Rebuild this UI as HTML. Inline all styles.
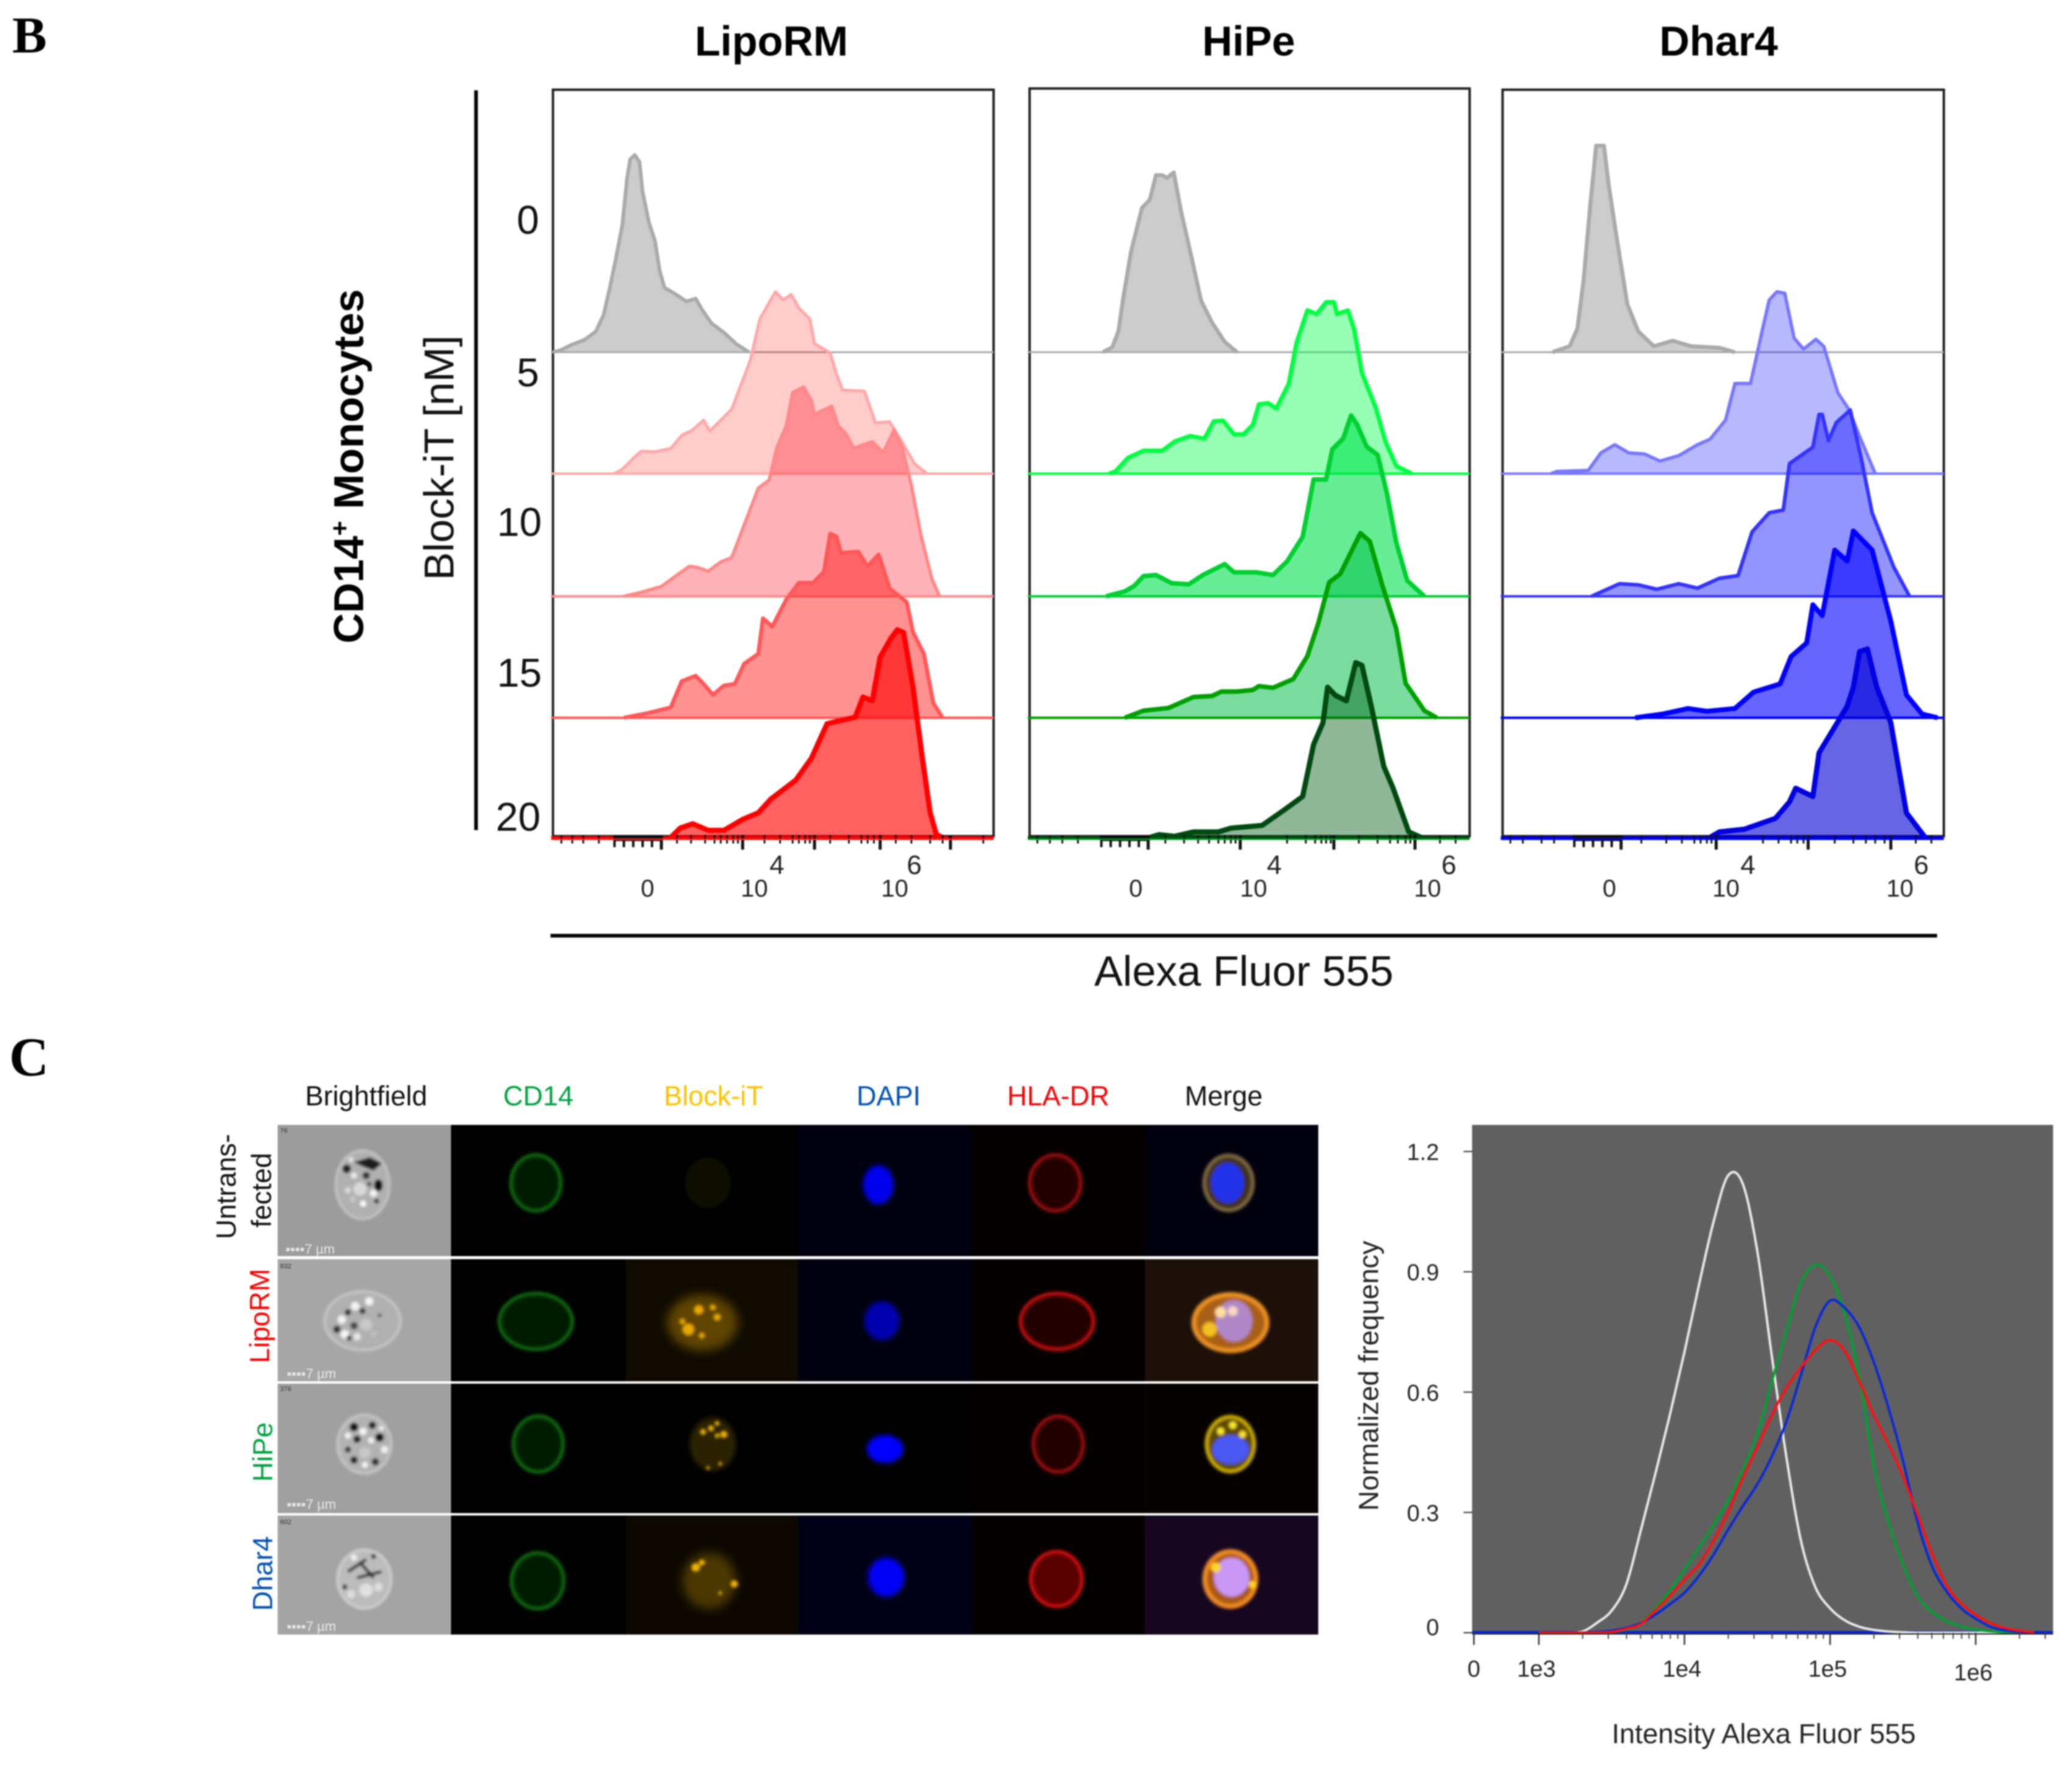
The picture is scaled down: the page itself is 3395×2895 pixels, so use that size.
<!DOCTYPE html>
<html>
<head>
<meta charset="utf-8">
<title>Block-iT uptake in CD14+ monocytes</title>
<style>
html,body{margin:0;padding:0;background:#fff;}
svg{display:block;font-family:"Liberation Sans",sans-serif;filter:blur(1px);}
</style>
</head>
<body>
<svg id="fig" xmlns="http://www.w3.org/2000/svg" width="3395" height="2895" viewBox="0 0 3395 2895">
<defs>
<filter id="b1" x="-10%" y="-10%" width="120%" height="120%"><feGaussianBlur stdDeviation="2"/></filter>
<filter id="b2" x="-30%" y="-30%" width="160%" height="160%"><feGaussianBlur stdDeviation="2.5"/></filter>
<filter id="b4" x="-40%" y="-40%" width="180%" height="180%"><feGaussianBlur stdDeviation="4"/></filter>
<filter id="b8" x="-50%" y="-50%" width="200%" height="200%"><feGaussianBlur stdDeviation="8"/></filter>
</defs>
<rect width="3395" height="2895" fill="#fff"/>

<text x="20" y="86" font-family="'Liberation Serif',serif" font-weight="bold" font-size="85">B</text>
<text x="15" y="1762" font-family="'Liberation Serif',serif" font-weight="bold" font-size="90">C</text>

<g font-weight="bold" font-size="68.5" text-anchor="middle" fill="#000">
<text x="1264" y="91">LipoRM</text>
<text x="2046" y="91">HiPe</text>
<text x="2816" y="91">Dhar4</text>
</g>

<rect x="777" y="148" width="6" height="1212" fill="#000"/>
<text transform="translate(595,764) rotate(-90)" text-anchor="middle" font-weight="bold" font-size="69">CD14<tspan dy="-24" font-size="42">+</tspan><tspan dy="24"> Monocytes</tspan></text>
<text transform="translate(743,750) rotate(-90)" text-anchor="middle" font-size="69" fill="#111">Block-iT [nM]</text>
<g font-size="66" text-anchor="middle" fill="#111">
<text x="865" y="383">0</text>
<text x="865" y="633">5</text>
<text x="851" y="878">10</text>
<text x="851" y="1125">15</text>
<text x="849" y="1361">20</text>
</g>

<g id="histograms"></g>

<rect x="902" y="1530" width="2272" height="6" fill="#000"/>
<text x="2038" y="1615" text-anchor="middle" font-size="70" fill="#111">Alexa Fluor 555</text>

<!-- imaging grid -->
<g font-size="45" text-anchor="middle">
<text x="600" y="1811" fill="#111">Brightfield</text>
<text x="882" y="1811" fill="#00a040">CD14</text>
<text x="1169" y="1811" fill="#ffc000">Block-iT</text>
<text x="1456" y="1811" fill="#0050b0">DAPI</text>
<text x="1734" y="1811" fill="#f00000">HLA-DR</text>
<text x="2005" y="1811" fill="#111">Merge</text>
</g>
<g font-size="45" text-anchor="middle">
<text transform="translate(386,1944) rotate(-90)" fill="#111">Untrans-</text>
<text transform="translate(444,1950) rotate(-90)" fill="#111">fected</text>
<text transform="translate(441,2156) rotate(-90)" fill="#f00000">LipoRM</text>
<text transform="translate(446,2379) rotate(-90)" fill="#00a040">HiPe</text>
<text transform="translate(446,2578) rotate(-90)" fill="#0050b0">Dhar4</text>
</g>

<g>
<rect x="455" y="1843" width="284" height="215" fill="#9c9c9c"/>
<rect x="739" y="1843" width="1421" height="215" fill="#000"/>
<rect x="1308" y="1843" width="284" height="215" fill="#00000f"/>
<rect x="1592" y="1843" width="284" height="215" fill="#040000"/>
<rect x="1876" y="1843" width="284" height="215" fill="#00000f"/>
<rect x="455" y="2063" width="284" height="200" fill="#a6a6a6"/>
<rect x="739" y="2063" width="1421" height="200" fill="#000"/>
<rect x="1025" y="2063" width="283" height="200" fill="#100b00"/>
<rect x="1308" y="2063" width="284" height="200" fill="#00000f"/>
<rect x="1592" y="2063" width="284" height="200" fill="#050000"/>
<rect x="1876" y="2063" width="284" height="200" fill="#1c1009"/>
<rect x="455" y="2267" width="284" height="212" fill="#a0a0a0"/>
<rect x="739" y="2267" width="1421" height="212" fill="#000"/>
<rect x="1592" y="2267" width="284" height="212" fill="#050000"/>
<rect x="1876" y="2267" width="284" height="212" fill="#060200"/>
<rect x="455" y="2483" width="284" height="195" fill="#a4a4a4"/>
<rect x="739" y="2483" width="1421" height="195" fill="#000"/>
<rect x="1025" y="2483" width="283" height="195" fill="#0c0800"/>
<rect x="1308" y="2483" width="284" height="195" fill="#000018"/>
<rect x="1592" y="2483" width="284" height="195" fill="#050000"/>
<rect x="1876" y="2483" width="284" height="195" fill="#160620"/>
</g>

<g>
<g filter="url(#b1)">
<ellipse cx="594" cy="1941" rx="44" ry="56" fill="#b0b0b0" stroke="#c4c4c4" stroke-width="4"/>
<path d="M580 1904 L606 1896 L626 1906 L612 1918 L592 1910Z" fill="#1a1a1a"/>
<ellipse cx="620" cy="1942" rx="7" ry="10" fill="#111"/>
<circle cx="568" cy="1915" r="7" fill="#222"/><circle cx="580" cy="1926" r="5" fill="#eee"/><circle cx="600" cy="1926" r="6" fill="#333"/>
<circle cx="590" cy="1948" r="11" fill="#d8d8d8"/><circle cx="612" cy="1955" r="6" fill="#f4f4f4"/><circle cx="617" cy="1968" r="4" fill="#222"/><circle cx="595" cy="1972" r="5" fill="#fff"/>
<circle cx="570" cy="1950" r="5" fill="#ddd"/><circle cx="605" cy="1940" r="4" fill="#555"/><circle cx="578" cy="1965" r="5" fill="#c8c8c8"/><circle cx="575" cy="1900" r="4" fill="#e8e8e8"/>
</g>
<g filter="url(#b1)">
<ellipse cx="594" cy="2164" rx="62" ry="48" fill="#b0b0b0" stroke="#c8c8c8" stroke-width="4"/>
<circle cx="560" cy="2162" r="7" fill="#f2f2f2"/><circle cx="570" cy="2150" r="5" fill="#222"/><circle cx="582" cy="2140" r="7" fill="#f4f4f4"/><circle cx="594" cy="2148" r="5" fill="#333"/><circle cx="605" cy="2132" r="7" fill="#f4f4f4"/><circle cx="552" cy="2178" r="6" fill="#333"/><circle cx="565" cy="2186" r="7" fill="#f4f4f4"/><circle cx="580" cy="2172" r="6" fill="#444"/><circle cx="600" cy="2170" r="10" fill="#c8c8c8"/><circle cx="622" cy="2155" r="3" fill="#444"/><circle cx="572" cy="2192" r="4" fill="#222"/><circle cx="585" cy="2190" r="6" fill="#e8e8e8"/><circle cx="612" cy="2185" r="5" fill="#c0c0c0"/>
</g>
<g filter="url(#b1)">
<ellipse cx="597" cy="2366" rx="44" ry="48" fill="#b2b2b2" stroke="#c6c6c6" stroke-width="4"/>
<circle cx="580" cy="2338" r="7" fill="#111"/><circle cx="595" cy="2345" r="6" fill="#f4f4f4"/><circle cx="610" cy="2335" r="6" fill="#222"/><circle cx="622" cy="2355" r="7" fill="#111"/><circle cx="570" cy="2352" r="5" fill="#f4f4f4"/><circle cx="585" cy="2358" r="6" fill="#222"/><circle cx="630" cy="2375" r="6" fill="#f0f0f0"/><circle cx="580" cy="2392" r="6" fill="#222"/><circle cx="598" cy="2400" r="5" fill="#f4f4f4"/><circle cx="615" cy="2395" r="6" fill="#333"/><circle cx="570" cy="2375" r="5" fill="#333"/><circle cx="608" cy="2360" r="5" fill="#f2f2f2"/><circle cx="625" cy="2340" r="4" fill="#f2f2f2"/><circle cx="598" cy="2380" r="9" fill="#c8c8c8"/>
</g>
<g filter="url(#b1)">
<ellipse cx="597" cy="2587" rx="44" ry="48" fill="#bcbcbc" stroke="#d0d0d0" stroke-width="4"/>
<path d="M570 2575 L600 2555 M585 2585 L625 2575 M590 2560 L612 2585" stroke="#222" stroke-width="5" fill="none"/>
<circle cx="565" cy="2600" r="4" fill="#222"/><circle cx="612" cy="2550" r="4" fill="#222"/><circle cx="580" cy="2552" r="5" fill="#f2f2f2"/><circle cx="600" cy="2605" r="11" fill="#e0e0e0"/><circle cx="575" cy="2612" r="7" fill="#dcdcdc"/><circle cx="620" cy="2600" r="7" fill="#dedede"/>
</g>
<g font-size="22" fill="#e8e8e8">
<text x="468" y="2054">▪▪▪▪7 µm</text>
<text x="470" y="2258">▪▪▪▪7 µm</text>
<text x="470" y="2472">▪▪▪▪7 µm</text>
<text x="470" y="2672">▪▪▪▪7 µm</text>
</g>
<g font-size="11" fill="#333">
<text x="459" y="1856">76</text>
<text x="459" y="2078">832</text>
<text x="459" y="2279">376</text>
<text x="459" y="2497">602</text>
</g>
</g>

<g filter="url(#b2)" fill="#041c04" stroke="#0a620a" stroke-width="6">
<ellipse cx="878" cy="1938" rx="41" ry="46"/>
<ellipse cx="878" cy="2165" rx="60" ry="46"/>
<ellipse cx="882" cy="2366" rx="41" ry="46"/>
<ellipse cx="881" cy="2590" rx="43" ry="46"/>
</g>

<g>
<ellipse cx="1160" cy="1938" rx="38" ry="42" fill="#0a0700" filter="url(#b4)"/>
<g>
<ellipse cx="1151" cy="2167" rx="58" ry="46" fill="#5e4400" filter="url(#b8)"/>
<g fill="#e8a800" filter="url(#b2)"><circle cx="1145" cy="2146" r="8"/><circle cx="1128" cy="2178" r="10"/><circle cx="1168" cy="2142" r="5"/><circle cx="1175" cy="2158" r="6"/><circle cx="1118" cy="2165" r="5"/><circle cx="1150" cy="2188" r="5"/></g>
</g>
<g>
<ellipse cx="1168" cy="2366" rx="38" ry="44" fill="#2c2000" filter="url(#b4)"/>
<g fill="#e8b000" filter="url(#b2)"><circle cx="1152" cy="2346" r="5"/><circle cx="1165" cy="2340" r="5"/><circle cx="1175" cy="2332" r="4"/><circle cx="1186" cy="2350" r="6"/><circle cx="1175" cy="2352" r="4"/><circle cx="1160" cy="2405" r="3"/><circle cx="1180" cy="2398" r="3"/></g>
</g>
<g>
<ellipse cx="1162" cy="2590" rx="44" ry="46" fill="#4c3800" filter="url(#b8)"/>
<g fill="#f0b400" filter="url(#b2)"><circle cx="1140" cy="2568" r="7"/><circle cx="1150" cy="2560" r="5"/><circle cx="1203" cy="2595" r="6"/><circle cx="1180" cy="2610" r="3"/></g>
</g>
</g>

<g filter="url(#b4)" fill="#0000ee">
<ellipse cx="1439" cy="1941" rx="25" ry="32"/>
<ellipse cx="1445" cy="2164" rx="29" ry="32" fill="#0000b0"/>
<ellipse cx="1450" cy="2374" rx="30" ry="23" fill="#0000ff"/>
<ellipse cx="1452" cy="2584" rx="30" ry="32" fill="#0000f4"/>
</g>

<g filter="url(#b2)" fill="#200000" stroke="#900808" stroke-width="6">
<ellipse cx="1729" cy="1938" rx="42" ry="46"/>
<ellipse cx="1732" cy="2165" rx="60" ry="46" stroke="#b80808"/>
<ellipse cx="1734" cy="2366" rx="41" ry="46"/>
<ellipse cx="1731" cy="2587" rx="42" ry="45" fill="#580000" stroke="#c80808"/>
</g>

<g>
<g filter="url(#b2)">
<ellipse cx="2013" cy="1938" rx="40" ry="45" fill="#403020" stroke="#806a40" stroke-width="6"/>
<ellipse cx="2011" cy="1938" rx="27" ry="33" fill="#2030e8"/>
</g>
<g filter="url(#b2)">
<ellipse cx="2016" cy="2167" rx="60" ry="46" fill="#a86018" stroke="#ec9020" stroke-width="8"/>
<ellipse cx="2022" cy="2164" rx="30" ry="34" fill="#b088c8"/>
<circle cx="2000" cy="2150" r="9" fill="#ffe0a0"/><circle cx="1982" cy="2178" r="12" fill="#f4c020"/><circle cx="2020" cy="2148" r="8" fill="#ffd8c0"/>
</g>
<g filter="url(#b2)">
<ellipse cx="2016" cy="2366" rx="39" ry="45" fill="#5c4a00" stroke="#d0b000" stroke-width="6"/>
<ellipse cx="2016" cy="2375" rx="30" ry="24" fill="#4858f0"/>
<circle cx="2000" cy="2345" r="6" fill="#ffe830"/><circle cx="2020" cy="2335" r="6" fill="#ffe830"/><circle cx="2036" cy="2350" r="6" fill="#ffe020"/>
</g>
<g filter="url(#b2)">
<ellipse cx="2016" cy="2587" rx="42" ry="45" fill="#a85818" stroke="#f08a20" stroke-width="8"/>
<ellipse cx="2018" cy="2584" rx="29" ry="32" fill="#c898f4"/>
<circle cx="1992" cy="2568" r="8" fill="#ffd820"/><circle cx="2052" cy="2596" r="6" fill="#ffd820"/>
</g>
</g>

<!-- intensity histogram -->
<g id="line-chart"></g>
<text x="2890" y="2856" text-anchor="middle" font-size="45.5" fill="#222">Intensity Alexa Fluor 555</text>
<text transform="translate(2258,2254) rotate(-90)" text-anchor="middle" font-size="45.5" fill="#222">Normalized frequency</text>
</svg>

<script>
// ---- Flow histogram data: channel units and event counts per series ----
const lipo0Ch=[113,135,170,215,250,275,295,315,335,350,360,375,390,400,420,440,455,470,500,540,570,590,620,660,700,740];
const lipo0Val=[0,3,13,23,38,68,118,173,233,318,353,361,348,293,238,203,148,118,108,93,98,78,53,36,15,0];
const lipo5Ch=[310,335,370,395,440,490,525,560,595,615,650,685,715,745,775,800,825,850,875,900,935,950,1000,1020,1040,1110,1145,1190,1230,1270,1310];
const lipo5Val=[0,8,28,41,40,46,70,80,98,78,98,118,163,208,283,308,333,318,328,303,283,238,221,183,153,151,93,95,58,18,0];
const lipo10Ch=[340,400,460,520,550,575,610,650,685,720,770,805,830,860,880,915,940,950,1005,1025,1050,1075,1135,1170,1205,1230,1260,1290,1325,1350];
const lipo10Val=[0,8,18,43,55,53,46,63,71,123,198,213,273,313,373,383,358,333,348,313,298,271,283,263,305,273,203,113,33,0];
const lipo15Ch=[340,420,490,525,570,595,625,660,695,725,770,785,815,860,900,945,980,1000,1020,1035,1090,1120,1155,1190,1245,1265,1300,1330,1360];
const lipo15Val=[0,9,19,67,77,62,42,59,62,99,117,182,167,217,247,247,267,337,332,302,304,277,299,237,212,157,117,27,0];
const lipo20Ch=[490,520,560,610,660,720,770,810,890,940,990,1040,1080,1105,1135,1160,1195,1215,1235,1265,1295,1320,1340,1360];
const lipo20Val=[0,17,25,13,13,33,45,70,105,145,208,215,220,257,250,330,365,380,375,275,145,45,5,0];

const hipe0Ch=[270,300,320,335,360,395,420,440,460,475,497,520,550,585,620,660,700];
const hipe0Val=[0,9,39,99,184,264,279,324,324,319,329,259,184,94,54,19,0];
const hipe5Ch=[290,310,350,400,460,500,550,595,625,655,690,720,750,770,800,825,865,890,925,955,985,1010,1020,1055,1075,1100,1145,1175,1210,1260];
const hipe5Val=[0,4,29,42,42,59,69,64,96,97,72,72,89,127,129,119,164,239,299,292,314,314,292,299,264,184,119,59,14,0];
const hipe10Ch=[280,340,370,400,440,490,545,590,660,690,760,815,860,910,930,945,985,1005,1040,1065,1085,1115,1150,1180,1210,1245,1300];
const hipe10Val=[0,9,19,37,39,24,22,39,59,44,44,39,64,109,169,214,214,269,289,331,314,274,259,189,99,29,0];
const hipe15Ch=[340,400,480,560,620,650,700,750,770,815,880,925,960,995,1030,1095,1125,1165,1210,1240,1300,1340];
const hipe15Val=[0,13,18,38,40,48,48,51,58,55,71,113,173,248,263,338,323,243,163,63,13,0];
const hipe20Ch=[420,450,500,560,640,680,780,850,910,945,975,990,1015,1050,1080,1100,1130,1170,1200,1250,1290];
const hipe20Val=[0,5,2,10,10,17,22,50,75,170,210,275,260,250,320,315,240,130,90,10,0];

const dhar0Ch=[185,240,265,285,305,325,350,365,390,425,460,510,570,630,720,770];
const dhar0Val=[0,11,43,133,263,378,378,308,213,88,38,11,21,11,8,0];
const dhar5Ch=[180,200,300,340,385,430,480,530,590,650,690,740,770,820,860,880,905,930,960,990,1030,1055,1100,1135,1170,1220];
const dhar5Val=[0,4,6,38,53,38,36,23,33,53,63,98,165,165,268,318,333,330,248,228,246,233,148,118,68,0];
const dhar10Ch=[310,400,460,520,590,650,720,780,825,880,925,945,1020,1040,1050,1070,1095,1140,1175,1210,1280,1330];
const dhar10Val=[0,23,21,13,23,15,33,38,118,153,158,243,273,333,333,285,318,341,253,153,53,0];
const dhar15Ch=[450,540,620,680,770,830,915,950,1000,1020,1050,1090,1130,1150,1210,1270,1320,1370,1420];
const dhar15Val=[0,7,17,12,17,47,62,112,137,207,187,307,287,342,307,177,42,7,0];
const dhar20Ch=[690,720,800,900,945,965,1020,1040,1130,1150,1170,1195,1225,1270,1320,1380];
const dhar20Val=[0,10,15,35,65,90,75,155,240,275,340,345,275,210,45,0];

// Axis tick channels per panel
const lipoMajorTicks=[460,720,950,1160,1385];
const hipeMajorTicks=[415,710,1010,1270];
const dharMajorTicks=[405,710,1005,1270];
const lipoMinorTicks=[140,175,210,260,510,555,600,630,650,670,690,705,790,840,880,900,920,935,1000,1060,1100,1120,1140,1210,1260,1320,1360,1490];
const hipeMinorTicks=[60,100,140,190,470,530,575,610,640,660,680,695,860,920,950,970,985,1000,1090,1150,1190,1215,1240,1255,1350,1400];
const dharMinorTicks=[50,90,150,190,470,550,600,640,660,680,695,860,910,950,970,990,1090,1150,1190,1220,1250,1350,1400];
const axisLabels=["0","10","4","10","6"];

const svgNS="http://www.w3.org/2000/svg";
function make(tag,parent){const e=document.createElementNS(svgNS,tag);parent.appendChild(e);return e;}

const histRoot=document.getElementById('histograms');
const panelDefs=[
 {key:'liporm',left:906,right:1628,top:147,bottom:1372,chMin:113,chMax:1523,axis:'#ff2020',major:lipoMajorTicks,minor:lipoMinorTicks,cluster:[310,460],labelX:[1061,1236,1273,1466,1498],
  series:[[lipo0Ch,lipo0Val,'#aaaaaa','rgba(120,120,120,.38)',6],[lipo5Ch,lipo5Val,'#ffa8a8','rgba(255,0,0,.2)',5],[lipo10Ch,lipo10Val,'#ff8888','rgba(255,0,20,.3)',5.5],[lipo15Ch,lipo15Val,'#ff5858','rgba(255,0,0,.43)',6.5],[lipo20Ch,lipo20Val,'#ff0000','rgba(255,0,0,.62)',8.5]]},
 {key:'hipe',left:1687,right:2408,top:145,bottom:1372,chMin:35,chMax:1445,axis:'#00a020',major:hipeMajorTicks,minor:hipeMinorTicks,cluster:[265,415],labelX:[1861,2054,2088,2339,2374],
  series:[[hipe0Ch,hipe0Val,'#aaaaaa','rgba(120,120,120,.38)',6.5],[hipe5Ch,hipe5Val,'#00ff40','rgba(0,255,70,.41)',7],[hipe10Ch,hipe10Val,'#00d030','rgba(0,225,80,.6)',7.5],[hipe15Ch,hipe15Val,'#00a000','rgba(0,190,70,.52)',7.5],[hipe20Ch,hipe20Val,'#004a10','rgba(0,90,20,.44)',8.5]]},
 {key:'dhar4',left:2462,right:3185,top:147,bottom:1372,chMin:25,chMax:1440,axis:'#0000ff',major:dharMajorTicks,minor:dharMinorTicks,cluster:[255,405],labelX:[2637,2828,2864,3113,3148],
  series:[[dhar0Ch,dhar0Val,'#aaaaaa','rgba(120,120,120,.38)',6.5],[dhar5Ch,dhar5Val,'#7777ff','rgba(0,0,255,.28)',5.5],[dhar10Ch,dhar10Val,'#3333ff','rgba(0,0,255,.42)',6],[dhar15Ch,dhar15Val,'#0000ff','rgba(0,0,255,.6)',8],[dhar20Ch,dhar20Val,'#0000e0','rgba(0,0,210,.6)',8.5]]}
];
const rowBaselines=[577,776,977,1176,1372];
const countScale=0.895;

for(const p of panelDefs){
  const xS=c=>p.left+(c-p.chMin)/(p.chMax-p.chMin)*(p.right-p.left);
  const g=make('g',histRoot);
  
  
  const frame=make('rect',g);
  
  
  frame.setAttribute('x',p.left);
  frame.setAttribute('y',p.top);
  frame.setAttribute('width',p.right-p.left);
  frame.setAttribute('height',p.bottom-p.top-2);
  frame.setAttribute('fill','#fff');
  frame.setAttribute('stroke','#222');
  frame.setAttribute('stroke-width','4');
  p.series.forEach((s,i)=>{
    const base=rowBaselines[i];
    const yS=v=>base-v*countScale;
    const pts=s[0].map((c,k)=>xS(c).toFixed(1)+','+yS(s[1][k]).toFixed(1));
    const area=make('polygon',g);
    
    
    area.setAttribute('points',pts.join(' '));
    area.setAttribute('fill',s[3]);
    const bl=make('line',g);
    
    
    bl.setAttribute('x1',p.left-3);
    bl.setAttribute('x2',p.right);
    bl.setAttribute('y1',base);
    bl.setAttribute('y2',base);
    bl.setAttribute('stroke',s[2]);
    bl.setAttribute('stroke-width',i==0?3:4);
    const line=make('polyline',g);
    
    
    line.setAttribute('points',pts.join(' '));
    line.setAttribute('fill','none');
    line.setAttribute('stroke',s[2]);
    line.setAttribute('stroke-width',s[4]);
    line.setAttribute('stroke-linejoin','round');
  });
  const tg=make('g',g);
  
  
  const tick=(c,len,w)=>{
    const t=make('line',tg);
    t.setAttribute('x1',xS(c));
    t.setAttribute('x2',xS(c));
    t.setAttribute('y1',p.bottom-4);
    t.setAttribute('y2',p.bottom-4+len);
    t.setAttribute('stroke','#111');
    t.setAttribute('stroke-width',w);
  };
  p.minor.forEach(c=>tick(c,14,3));
  p.major.forEach(c=>tick(c,24,5));
  const cl=make('rect',tg);
  
  
  cl.setAttribute('x',xS(p.cluster[0]));
  cl.setAttribute('y',p.bottom-4);
  cl.setAttribute('width',xS(p.cluster[1])-xS(p.cluster[0]));
  cl.setAttribute('height',10);
  cl.setAttribute('fill','#111');
  for(let c=p.cluster[0];c<=p.cluster[1];c+=30){tick(c,20,4);}
  const ax=make('line',tg);
  
  
  ax.setAttribute('x1',p.left-3);
  ax.setAttribute('x2',p.right);
  ax.setAttribute('y1',p.bottom+3);
  ax.setAttribute('y2',p.bottom+3);
  ax.setAttribute('stroke',p.axis);
  ax.setAttribute('stroke-width',2.5);
  axisLabels.forEach((txt,k)=>{
    const t=make('text',g);
    
    
    t.setAttribute('x',p.labelX[k]);
    t.setAttribute('y',(k==2||k==4)?1432:1469);
    t.setAttribute('text-anchor','middle');
    t.setAttribute('font-size',(k==2||k==4)?44:40);
    t.setAttribute('fill','#222');
    t.textContent=txt;
  });
}

// ---- Normalized frequency chart data ----
const logIntensity=[3.0,3.1,3.2,3.3,3.4,3.5,3.6,3.7,3.8,3.9,4.0,4.1,4.2,4.3,4.4,4.5,4.6,4.7,4.8,4.9,5.0,5.1,5.2,5.3,5.4,5.5,5.6,5.7,5.8,5.9,6.0,6.1,6.2,6.3,6.4];
const untransfectedFreq=[0,0,0,.003,.025,.055,.12,.255,.396,.543,.70,.868,1.025,1.14,1.12,.952,.69,.438,.229,.113,.061,.031,.015,.007,.003,.001,0,0,0,0,0,0,0,0,0];
const hipeFreq=[0,0,0,0,0,.002,.008,.024,.06,.105,.157,.213,.27,.33,.407,.496,.627,.753,.873,.918,.889,.795,.637,.417,.276,.171,.092,.052,.029,.016,.008,.004,.001,0,0];
const lipoFreq=[0,0,0,0,0,.002,.01,.022,.056,.092,.132,.171,.23,.302,.386,.464,.543,.611,.662,.705,.73,.702,.627,.543,.47,.39,.295,.197,.118,.073,.045,.024,.012,.005,.001];
const dharFreq=[0,0,0,0,.002,.005,.012,.024,.045,.071,.1,.142,.195,.257,.315,.37,.44,.527,.643,.763,.828,.81,.762,.675,.562,.43,.276,.166,.103,.061,.035,.015,.006,.002,0];
const yTickValues=[0,0.3,0.6,0.9,1.2];
const yTickLabels=["0","0.3","0.6","0.9","1.2"];
const xTickDecades=[3,4,5,6];
const xTickLabels=["1e3","1e4","1e5","1e6"];

const chart=document.getElementById('line-chart');
const plotL=2412,plotR=3364,plotT=1843,plotB=2675;
const xLog=v=>2760+(v-4)*238.6;
const yFreq=v=>plotB-v*657;

const plotBg=make('rect',chart);


plotBg.setAttribute('x',plotL);
plotBg.setAttribute('y',plotT);
plotBg.setAttribute('width',plotR-plotL);
plotBg.setAttribute('height',plotB-plotT);
plotBg.setAttribute('fill','#606060');

function smooth(xs,ys){
  const P=xs.map((x,i)=>[xLog(x),yFreq(ys[i])]);
  let d='M'+P[0][0].toFixed(1)+' '+P[0][1].toFixed(1);
  for(let i=0;i<P.length-1;i++){
    const a=P[Math.max(i-1,0)],b=P[i],c=P[i+1],e=P[Math.min(i+2,P.length-1)];
    const c1x=b[0]+(c[0]-a[0])/6,c1y=b[1]+(c[1]-a[1])/6,c2x=c[0]-(e[0]-b[0])/6,c2y=c[1]-(e[1]-b[1])/6;
    d+=' C'+c1x.toFixed(1)+' '+c1y.toFixed(1)+' '+c2x.toFixed(1)+' '+c2y.toFixed(1)+' '+c[0].toFixed(1)+' '+c[1].toFixed(1);
  }
  return d;
}

const freqSeries=[['untransfected',untransfectedFreq,'#e8e8e8'],['hipe',hipeFreq,'#00a030'],['dhar4',dharFreq,'#0a28d8'],['liporm',lipoFreq,'#ff1010']];
const dharBase=make('line',chart);


dharBase.setAttribute('x1',plotL);
dharBase.setAttribute('x2',plotR);
dharBase.setAttribute('y1',plotB-1);
dharBase.setAttribute('y2',plotB-1);
dharBase.setAttribute('stroke','#0a28d8');
dharBase.setAttribute('stroke-width',4);
freqSeries.forEach(s=>{
  const path=make('path',chart);
  
  
  path.setAttribute('d',smooth(logIntensity,s[1]));
  path.setAttribute('fill','none');
  path.setAttribute('stroke',s[2]);
  path.setAttribute('stroke-width',4);
});

yTickValues.forEach((v,i)=>{
  const t=make('line',chart);
  
  
  t.setAttribute('x1',plotL-14);
  t.setAttribute('x2',plotL);
  t.setAttribute('y1',yFreq(v));
  t.setAttribute('y2',yFreq(v));
  t.setAttribute('stroke','#333');
  t.setAttribute('stroke-width',2);
  const l=make('text',chart);
  
  
  l.setAttribute('x',2358);
  l.setAttribute('y',yFreq(v)+(v==0?4:14));
  l.setAttribute('text-anchor','end');
  l.setAttribute('font-size',38);
  l.setAttribute('fill','#222');
  l.textContent=yTickLabels[i];
});
const axisBottom=make('line',chart);


axisBottom.setAttribute('x1',plotL);
axisBottom.setAttribute('x2',plotR);
axisBottom.setAttribute('y1',plotB+2);
axisBottom.setAttribute('y2',plotB+2);
axisBottom.setAttribute('stroke','#222');
axisBottom.setAttribute('stroke-width',2);
xTickDecades.forEach((dec,i)=>{
  const t=make('line',chart);
  
  
  t.setAttribute('x1',xLog(dec));
  t.setAttribute('x2',xLog(dec));
  t.setAttribute('y1',plotB);
  t.setAttribute('y2',plotB+20);
  t.setAttribute('stroke','#333');
  t.setAttribute('stroke-width',2.5);
  for(let m=2;m<10;m++){
    const v=dec+Math.log10(m);
    if(xLog(v)>plotR) continue;
    const mt=make('line',chart);
    
    
    mt.setAttribute('x1',xLog(v));
    mt.setAttribute('x2',xLog(v));
    mt.setAttribute('y1',plotB);
    mt.setAttribute('y2',plotB+10);
    mt.setAttribute('stroke','#444');
    mt.setAttribute('stroke-width',2);
  }
  const l=make('text',chart);
  
  
  l.setAttribute('x',xLog(dec)-4);
  l.setAttribute('y',dec==6?2753:2747);
  l.setAttribute('text-anchor','middle');
  l.setAttribute('font-size',38);
  l.setAttribute('fill','#222');
  l.textContent=xTickLabels[i];
});
const zeroLabel=make('text',chart);


zeroLabel.setAttribute('x',2415);
zeroLabel.setAttribute('y',2747);
zeroLabel.setAttribute('text-anchor','middle');
zeroLabel.setAttribute('font-size',38);
zeroLabel.setAttribute('fill','#222');
zeroLabel.textContent='0';
const zeroTick=make('line',chart);


zeroTick.setAttribute('x1',plotL+3);
zeroTick.setAttribute('x2',plotL+3);
zeroTick.setAttribute('y1',plotB);
zeroTick.setAttribute('y2',plotB+20);
zeroTick.setAttribute('stroke','#333');
zeroTick.setAttribute('stroke-width',2.5);
</script>
</body>
</html>
